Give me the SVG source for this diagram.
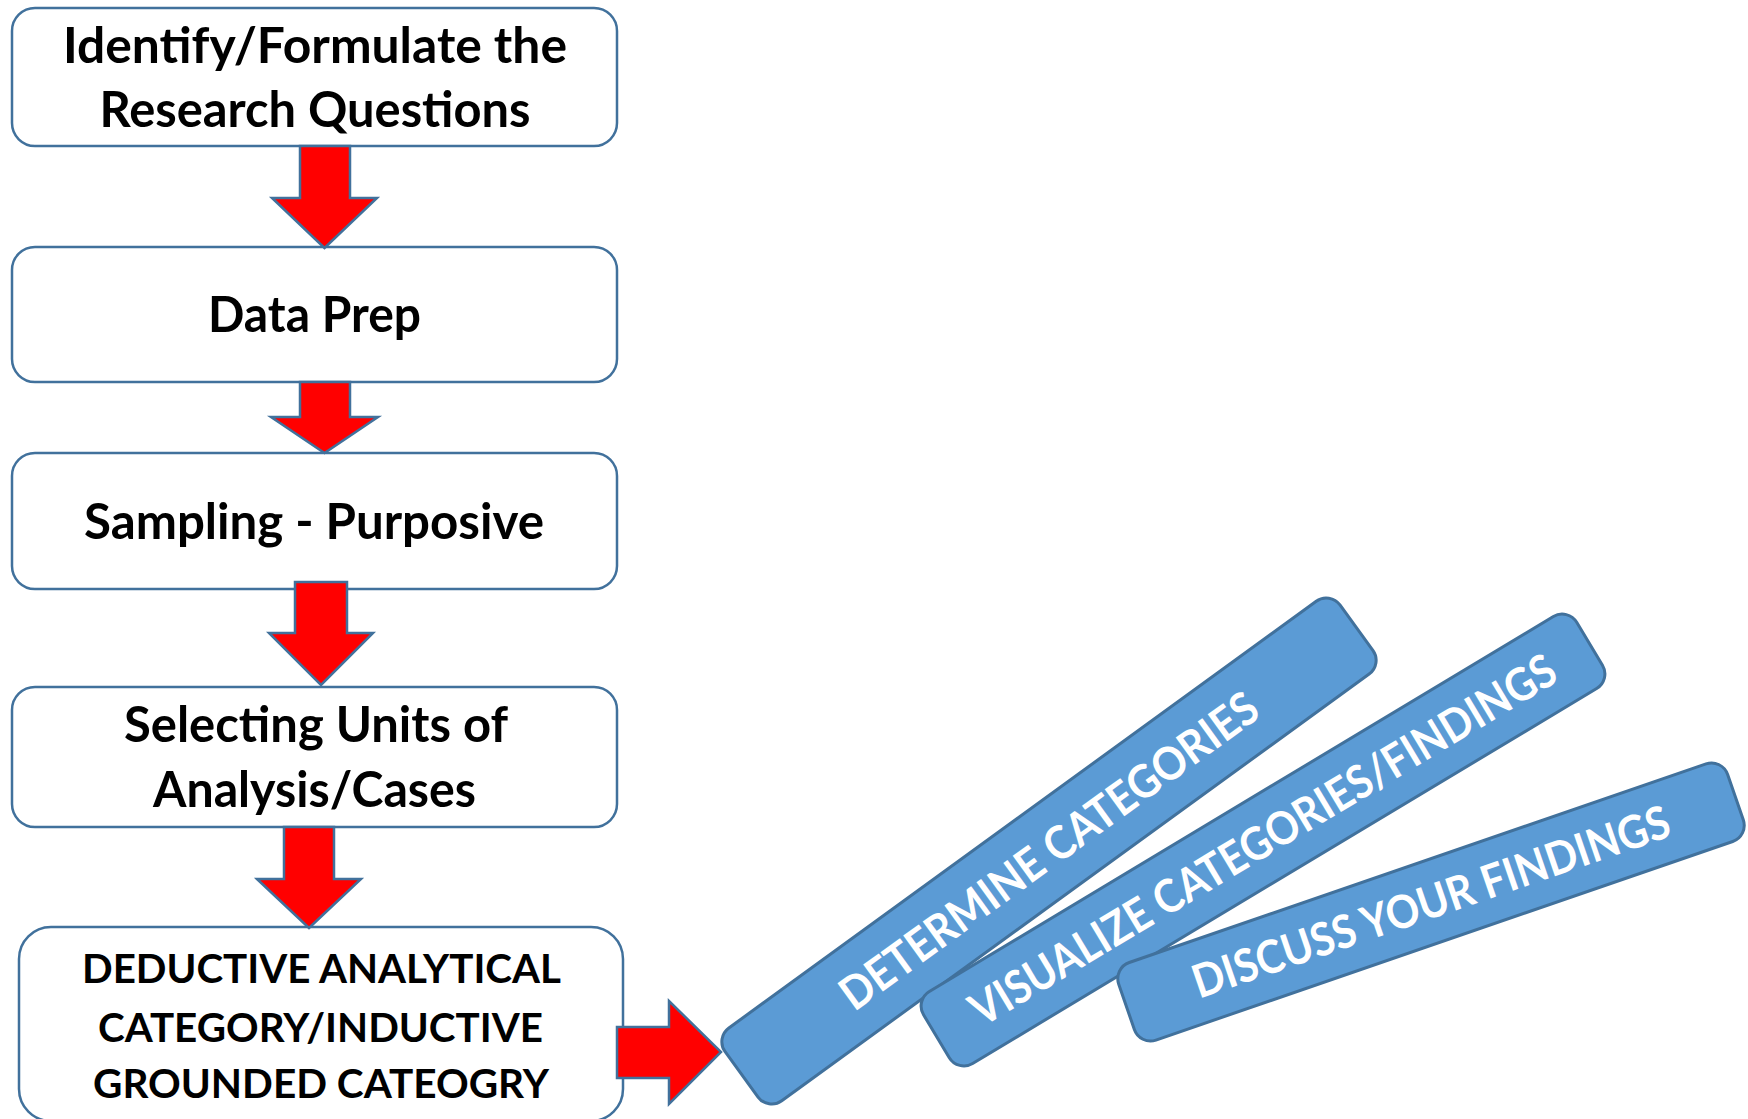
<svg xmlns="http://www.w3.org/2000/svg" width="1748" height="1119" viewBox="0 0 1748 1119">
<style>
.box{fill:#ffffff;stroke:#41719C;stroke-width:2.5}
.arr{fill:#FF0000;stroke:#41719C;stroke-width:2.5;stroke-linejoin:miter}
.bar{fill:#5B9BD5;stroke:#41719C;stroke-width:3}
.t{font-family:Lato,"Open Sans","Liberation Sans",sans-serif;font-weight:bold;fill:#000000;text-anchor:middle;font-size:49px}
.t5{font-size:41px}
.w{font-family:Lato,"Open Sans","Liberation Sans",sans-serif;font-weight:bold;fill:#ffffff;text-anchor:middle;font-size:46px}
</style>
<rect width="1748" height="1119" fill="#ffffff"/>
<g id="n1"><rect class="box" x="12" y="8" width="605" height="138" rx="23"/>
<text class="t" x="315" y="63" textLength="504" lengthAdjust="spacingAndGlyphs">Identify/Formulate the</text>
<text class="t" x="315" y="127" textLength="431" lengthAdjust="spacingAndGlyphs">Research Questions</text></g>
<g id="n2"><rect class="box" x="12" y="247" width="605" height="135" rx="23"/>
<text class="t" x="314.5" y="332" textLength="213" lengthAdjust="spacingAndGlyphs">Data Prep</text></g>
<g id="n3"><rect class="box" x="12" y="453" width="605" height="136" rx="23"/>
<text class="t" x="314" y="539" textLength="460" lengthAdjust="spacingAndGlyphs">Sampling - Purposive</text></g>
<g id="n4"><rect class="box" x="12" y="687" width="605" height="140" rx="23"/>
<text class="t" x="316" y="742" textLength="384" lengthAdjust="spacingAndGlyphs">Selecting Units of</text>
<text class="t" x="314.5" y="807" textLength="323" lengthAdjust="spacingAndGlyphs">Analysis/Cases</text></g>
<g id="n5"><rect class="box" x="19" y="927" width="604" height="194" rx="32"/>
<text class="t t5" x="321.5" y="983" textLength="479" lengthAdjust="spacingAndGlyphs">DEDUCTIVE ANALYTICAL</text>
<text class="t t5" x="320.5" y="1042" textLength="445" lengthAdjust="spacingAndGlyphs">CATEGORY/INDUCTIVE</text>
<text class="t t5" x="321" y="1098" textLength="456" lengthAdjust="spacingAndGlyphs">GROUNDED CATEOGRY</text></g>
<g id="connectors">
<polygon class="arr" points="300,146 350,146 350,198 377,198 324.5,248 272,198 300,198"/>
<polygon class="arr" points="300,382 350,382 350,417 378,417 324.5,453 271,417 300,417"/>
<polygon class="arr" points="295,582 347,582 347,633 373,633 321,685 269,633 295,633"/>
<polygon class="arr" points="284,827 334,827 334,879 361,879 309,928 257,879 284,879"/>
<polygon class="arr" points="617,1027 669,1027 669,1001 721,1052 669,1104 669,1078 617,1078"/>
</g>
<g id="b1" transform="translate(1049,851) rotate(-36)"><rect class="bar" x="-380" y="-45" width="760" height="90" rx="17"/>
<text class="w" x="0" y="16" textLength="505" lengthAdjust="spacingAndGlyphs">DETERMINE CATEGORIES</text></g>
<g id="b2" transform="translate(1263,840) rotate(-31)"><rect class="bar" x="-381" y="-42" width="762" height="84" rx="17"/>
<text class="w" x="0" y="16" textLength="675" lengthAdjust="spacingAndGlyphs">VISUALIZE CATEGORIES/FINDINGS</text></g>
<g id="b3" transform="translate(1431,902) rotate(-19)"><rect class="bar" x="-322" y="-41" width="644" height="82" rx="17"/>
<text class="w" x="0" y="16" textLength="502" lengthAdjust="spacingAndGlyphs">DISCUSS YOUR FINDINGS</text></g>
</svg>
